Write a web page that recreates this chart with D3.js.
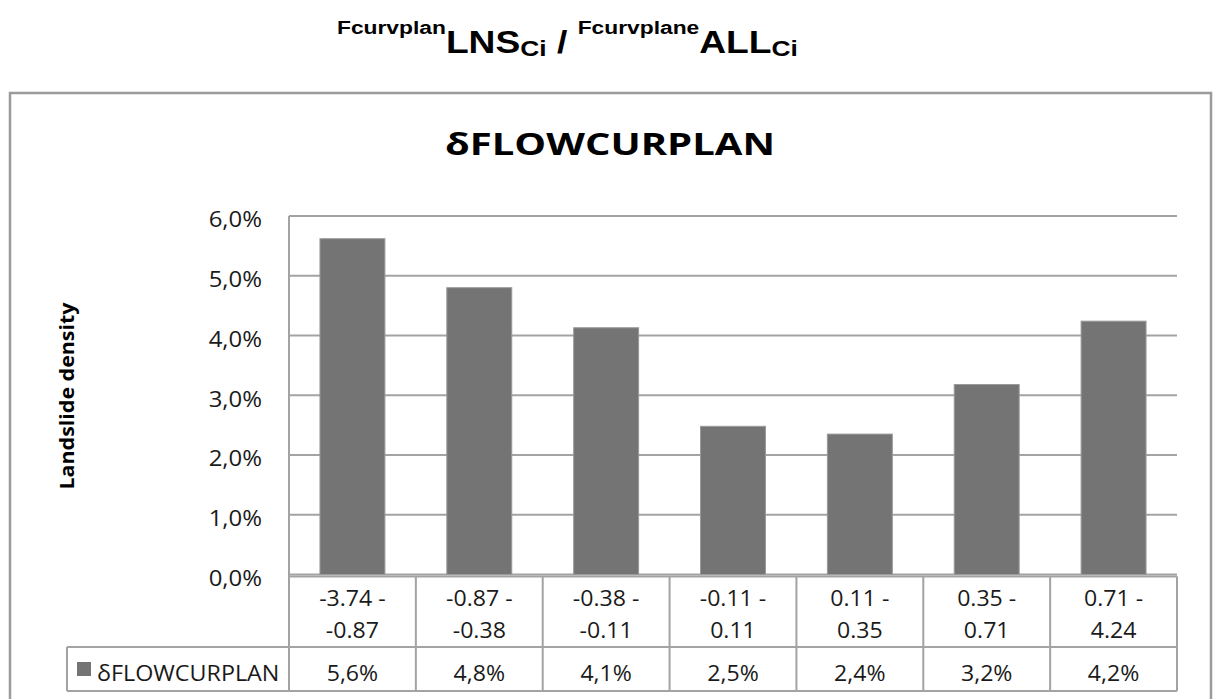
<!DOCTYPE html>
<html>
<head>
<meta charset="utf-8">
<script src="https://cdn.jsdelivr.net/npm/d3@7"></script>
<style>
  html, body { margin: 0; padding: 0; background: #fff; }
  svg { display: block; }
</style>
</head>
<body>
<svg id="chart" width="1213" height="699"></svg>
<script>
// ---- data ----
const categories = ["-3.74 - -0.87", "-0.87 - -0.38", "-0.38 - -0.11", "-0.11 - 0.11", "0.11 - 0.35", "0.35 - 0.71", "0.71 - 4.24"];
const values = [5.62, 4.80, 4.13, 2.48, 2.35, 3.18, 4.24]; // percent
const tableLabels = ["5,6%", "4,8%", "4,1%", "2,5%", "2,4%", "3,2%", "4,2%"];
const yTicks = [0, 1, 2, 3, 4, 5, 6];
const seriesName = "δFLOWCURPLAN";
const chartTitle = "δFLOWCURPLAN";
const yAxisTitle = "Landslide density";

// ---- layout ----
const plotL = 289, plotR = 1177, plotT = 216, plotB = 574.5;
const tableRow1B = 647, tableRow2B = 691, legendL = 67;
const gridColor = "#a3a3a3";
const barColor = "#747474";
const font = "'Open Sans', sans-serif";

const svg = d3.select("#chart");

// horizontal stretch helper (reference text is slightly widened)
function stretch(sel, f) {
  sel.each(function () {
    const w = this.getComputedTextLength();
    d3.select(this).attr("textLength", w * f).attr("lengthAdjust", "spacingAndGlyphs");
  });
}

// outer frame
svg.append("rect").attr("x", 10).attr("y", 93).attr("width", 1201).attr("height", 620)
  .attr("fill", "none").attr("stroke", "#9b9b9b").attr("stroke-width", 2.5);

// heading with super/subscripts (horizontally scaled)
const hx = 337, hy = 53, hs = 1.2;
const head = svg.append("text")
  .attr("transform", `translate(${hx},${hy}) scale(${hs},1)`)
  .attr("font-family", "'Liberation Sans', Arial, sans-serif").attr("font-weight", "bold").attr("fill", "#000");
head.append("tspan").attr("font-size", 19).attr("dy", -19).text("Fcurvplan");
head.append("tspan").attr("font-size", 31).attr("dy", 19).text("LNS");
head.append("tspan").attr("font-size", 22).attr("dy", 3).text("Ci");
head.append("tspan").attr("font-size", 31).attr("dy", -3).text(" / ");
head.append("tspan").attr("font-size", 19).attr("dy", -19).text("Fcurvplane");
head.append("tspan").attr("font-size", 31).attr("dy", 19).text("ALL");
head.append("tspan").attr("font-size", 22).attr("dy", 3).text("Ci");

// chart title
svg.append("text").attr("x", 610).attr("y", 155).attr("text-anchor", "middle")
  .attr("font-family", font).attr("font-weight", "bold").attr("font-size", 31).attr("fill", "#000")
  .attr("textLength", 330).attr("lengthAdjust", "spacingAndGlyphs")
  .text(chartTitle);

// scales
const x = d3.scaleBand().domain(categories).range([plotL, plotR]).paddingInner(0.488).paddingOuter(0.244);
const y = d3.scaleLinear().domain([0, 6]).range([plotB, plotT]);
const step = x.step();

// gridlines
svg.append("g").selectAll("line").data(yTicks).join("line")
  .attr("x1", plotL).attr("x2", plotR)
  .attr("y1", d => y(d)).attr("y2", d => y(d))
  .attr("stroke", gridColor).attr("stroke-width", 2);

// y tick labels via axis
const yAxis = d3.axisLeft(y).tickValues(yTicks).tickSize(0).tickPadding(0)
  .tickFormat(d => d.toFixed(1).replace(".", ",") + "%");
const yg = svg.append("g").attr("transform", `translate(${plotL - 27},0)`).call(yAxis);
yg.select(".domain").remove();
yg.selectAll("text").attr("font-family", font).attr("font-size", 21).attr("fill", "#1a1a1a")
  .attr("dy", "0.9em").attr("y", -8);
stretch(yg.selectAll("text"), 1.14);

// y axis title
const yt = svg.append("text").attr("transform", "translate(74,396) rotate(-90)").attr("text-anchor", "middle")
  .attr("font-family", font).attr("font-weight", "bold").attr("font-size", 19).attr("fill", "#000")
  .text(yAxisTitle);
yt.attr("textLength", 187).attr("lengthAdjust", "spacingAndGlyphs");

// bars
svg.append("g").selectAll("rect").data(values).join("rect")
  .attr("x", (d, i) => x(categories[i]))
  .attr("y", d => y(d))
  .attr("width", x.bandwidth())
  .attr("height", d => plotB - y(d))
  .attr("fill", barColor).attr("stroke", "#9a9a9a").attr("stroke-width", 1);

// table
const tg = svg.append("g").attr("stroke", gridColor).attr("stroke-width", 2).attr("fill", "none");
tg.append("line").attr("x1", plotL).attr("x2", plotR).attr("y1", y(0) + 2).attr("y2", y(0) + 2);
tg.append("line").attr("x1", legendL).attr("x2", plotR).attr("y1", tableRow1B).attr("y2", tableRow1B);
tg.append("line").attr("x1", legendL).attr("x2", plotR).attr("y1", tableRow2B).attr("y2", tableRow2B);
tg.append("line").attr("x1", legendL).attr("x2", legendL).attr("y1", tableRow1B).attr("y2", tableRow2B);
const bounds = categories.map(c => x(c) - (step - x.bandwidth()) / 2);
bounds.push(plotR);
tg.selectAll("line.v").data(bounds).join("line").attr("class", "v")
  .attr("x1", d => d).attr("x2", d => d)
  .attr("y1", (d, i) => i === 0 ? plotT : y(0) + 2).attr("y2", tableRow2B);

// category labels (two lines) and table values
const cl = svg.append("g").attr("font-family", font).attr("font-size", 21).attr("fill", "#1a1a1a").attr("text-anchor", "middle");
categories.forEach((c, i) => {
  const parts = c.split(" - ");
  const cx = x(c) + x.bandwidth() / 2;
  cl.append("text").attr("x", cx).attr("y", 606).text(parts[0] + " -");
  cl.append("text").attr("x", cx).attr("y", 638).text(parts[1]);
  cl.append("text").attr("x", cx).attr("y", 681).text(tableLabels[i]);
});
stretch(cl.selectAll("text"), 1.1);

// legend cell
svg.append("rect").attr("x", 77).attr("y", 662).attr("width", 14).attr("height", 14).attr("fill", barColor);
const lt = svg.append("text").attr("x", 97).attr("y", 681).attr("font-family", font).attr("font-size", 21).attr("fill", "#1a1a1a")
  .text(seriesName);
stretch(lt, 1.11);
</script>
</body>
</html>
